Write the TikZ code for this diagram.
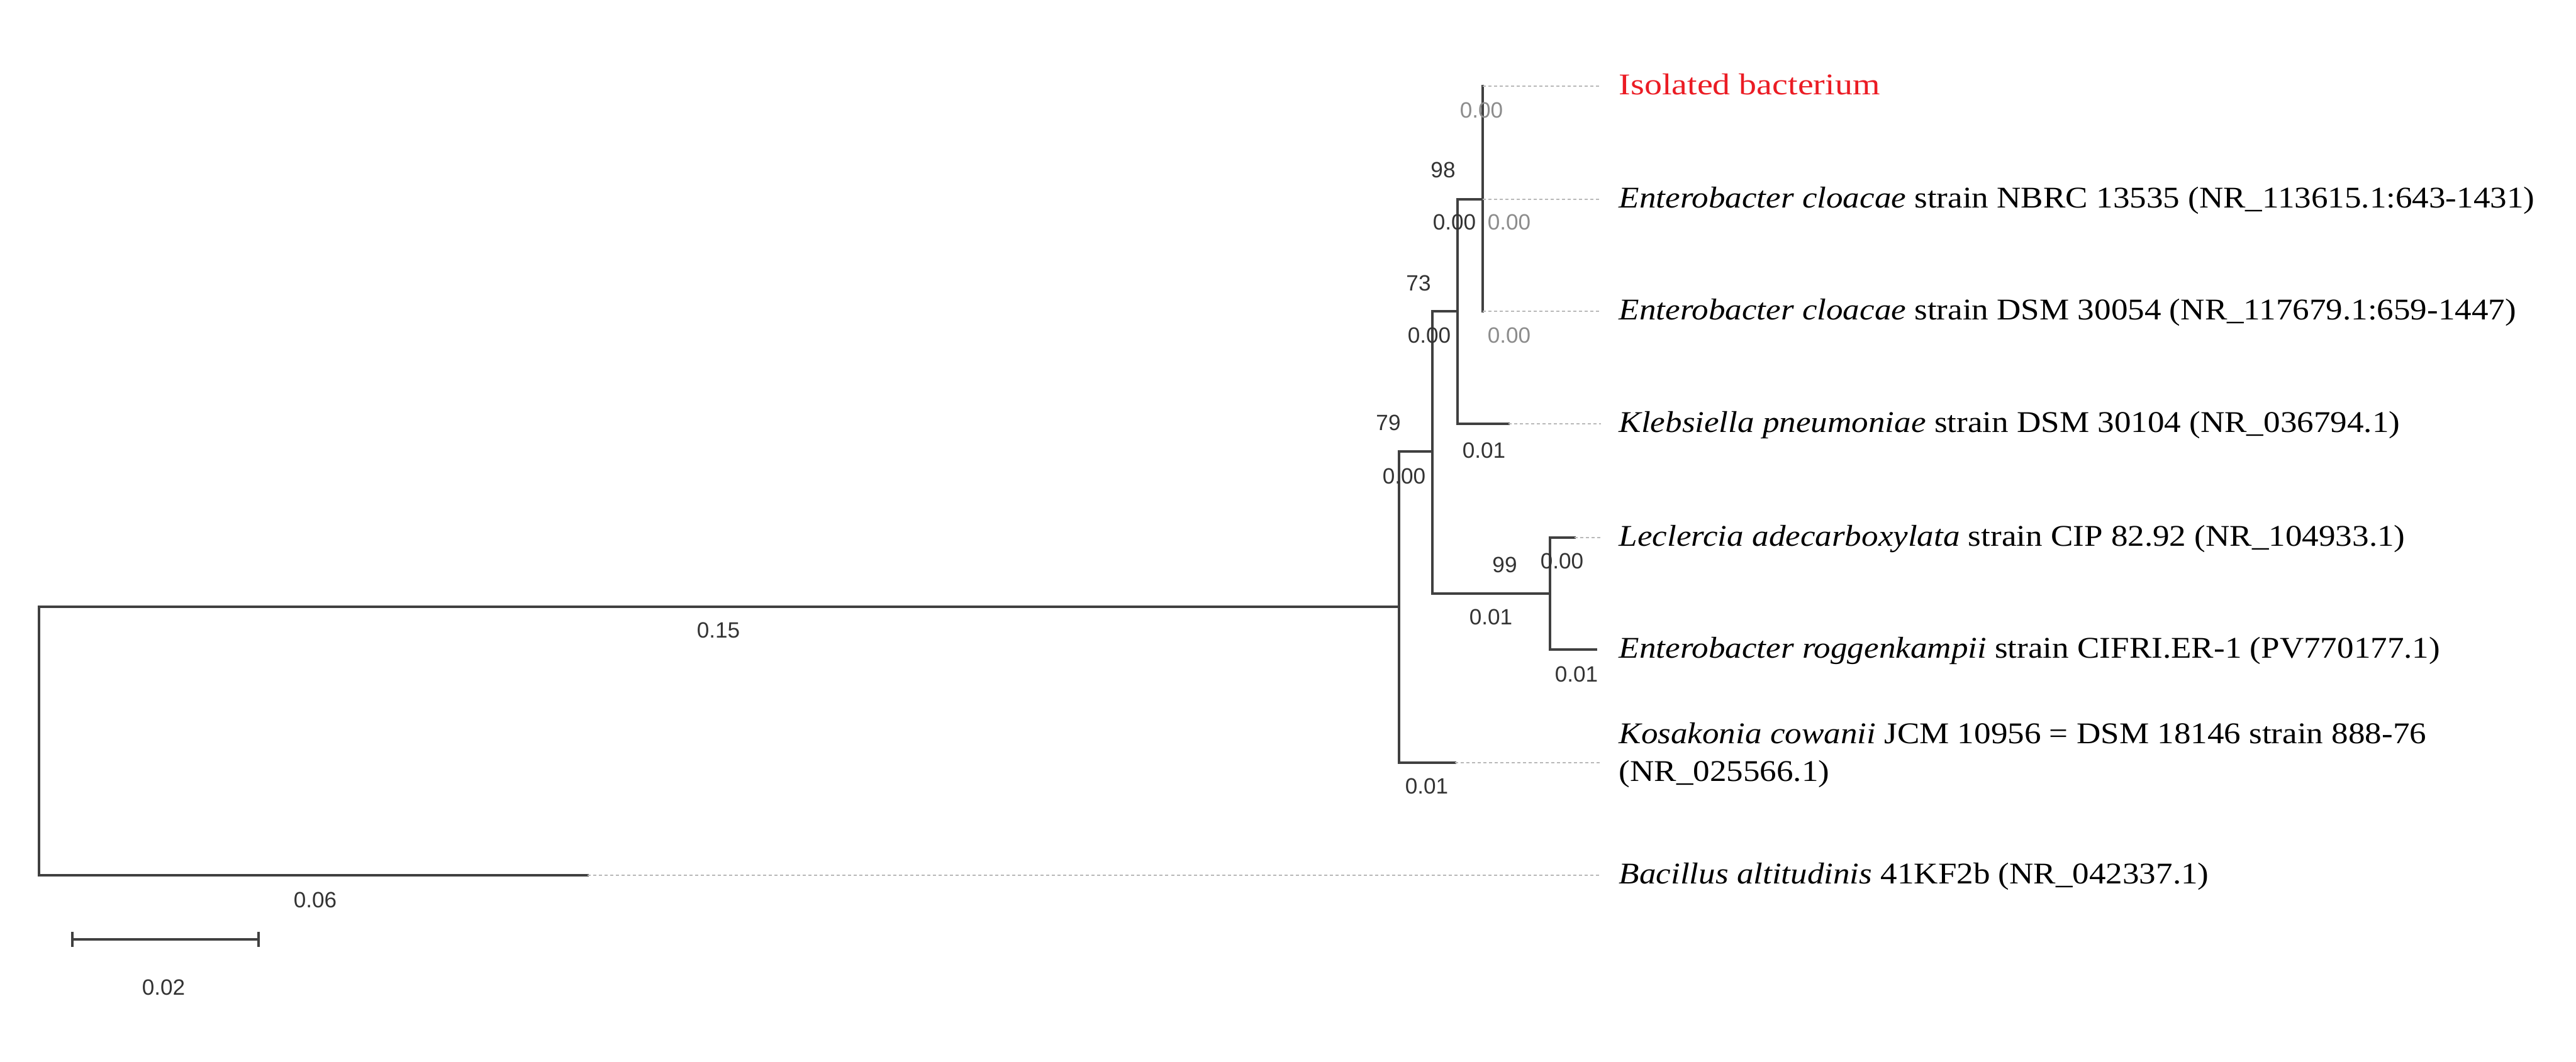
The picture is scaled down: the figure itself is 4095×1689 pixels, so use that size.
\documentclass[tikz,border=0pt]{standalone}
\usepackage{fontspec}
\setmainfont{Liberation Serif}
\newfontfamily\numfont{Liberation Sans}
\definecolor{isored}{RGB}{235,28,36}
\definecolor{branchcol}{RGB}{64,64,64}
\newcommand{\wtx}[1]{\scalebox{1.11}[1]{#1}}
\begin{document}
\begin{tikzpicture}[x=0.01cm,y=-0.01cm,
  branch/.style={draw=branchcol, line width=0.9pt, line cap=rect},
  leader/.style={draw=black!28, line width=0.7pt, dash pattern=on 0.05cm off 0.04cm, shorten >=0.28cm},
  taxon/.style={anchor=base west, inner sep=0pt, font=\fontsize{13.6}{16}\selectfont},
  blabel/.style={inner sep=0pt, font=\numfont\fontsize{10}{12}\selectfont, text=black!80},
  glabel/.style={blabel, text=black!45}]
\path[use as bounding box, fill=white] (0,0) rectangle (4095,1689);

% internal points
\coordinate (iso) at (2357,137);
\coordinate (nA) at (2357,317);
\coordinate (dsm) at (2357,495);
\coordinate (nB) at (2317,317);
\coordinate (nBin) at (2317,495);
\coordinate (nBbot) at (2317,674);
\coordinate (kleb) at (2398,674);
\coordinate (nC) at (2277,495);
\coordinate (nCin) at (2277,718);
\coordinate (nCbot) at (2277,944);
\coordinate (nD) at (2464,944);
\coordinate (nDtop) at (2464,855);
\coordinate (nDbot) at (2464,1033);
\coordinate (lecl) at (2503,855);
\coordinate (rogg) at (2537,1033);
\coordinate (nE) at (2224,718);
\coordinate (nEin) at (2224,965);
\coordinate (nEbot) at (2224,1213);
\coordinate (kos) at (2313,1213);
\coordinate (root) at (62,965);
\coordinate (rootbot) at (62,1392);
\coordinate (bac) at (934,1392);

% branches
\draw[branch] (iso) -- (dsm);
\draw[branch] (nB) -- (nA);
\draw[branch] (nB) -- (nBbot) -- (kleb);
\draw[branch] (nC) -- (nBin);
\draw[branch] (nC) -- (nCbot) -- (nD);
\draw[branch] (lecl) -- (nDtop) -- (nDbot) -- (rogg);
\draw[branch] (nE) -- (nCin);
\draw[branch] (nE) -- (nEbot) -- (kos);
\draw[branch] (root) -- (nEin);
\draw[branch] (root) -- (rootbot) -- (bac);

% taxa
\node[taxon, text=isored] (t1) at (2573,151) {\scalebox{1.17}[1]{Isolated bacterium}};
\node[taxon] (t2) at (2573,331) {\wtx{\textit{Enterobacter cloacae} strain NBRC 13535 (NR\_113615.1:643-1431)}};
\node[taxon] (t3) at (2573,509) {\wtx{\textit{Enterobacter cloacae} strain DSM 30054 (NR\_117679.1:659-1447)}};
\node[taxon] (t4) at (2573,688) {\wtx{\textit{Klebsiella pneumoniae} strain DSM 30104 (NR\_036794.1)}};
\node[taxon] (t5) at (2573,869) {\wtx{\textit{Leclercia adecarboxylata} strain CIP 82.92 (NR\_104933.1)}};
\node[taxon] (t6) at (2573,1047) {\wtx{\textit{Enterobacter roggenkampii} strain CIFRI.ER-1 (PV770177.1)}};
\node[taxon] (t7) at (2573,1183) {\wtx{\textit{Kosakonia cowanii} JCM 10956 = DSM 18146 strain 888-76}};
\node[taxon] (t7b) at (2573,1243) {\wtx{(NR\_025566.1)}};
\node[taxon] (t8) at (2573,1406) {\wtx{\textit{Bacillus altitudinis} 41KF2b (NR\_042337.1)}};

% dotted leaders
\draw[leader] (iso) -- (iso -| t1.west);
\draw[leader] (nA) -- (nA -| t2.west);
\draw[leader] (dsm) -- (dsm -| t3.west);
\draw[leader] (kleb) -- (kleb -| t4.west);
\draw[leader] (lecl) -- (lecl -| t5.west);
\draw[leader] (kos) -- (kos -| t7.west);
\draw[leader] (bac) -- (bac -| t8.west);

% branch labels
\node[glabel] (l1) at (2355,175) {0.00};
\node[blabel] (l2) at (2294,270) {98};
\node[blabel] (l3) at (2312,353) {0.00};
\node[glabel] (l4) at (2399,353) {0.00};
\node[blabel] (l5) at (2255,450) {73};
\node[blabel] (l6) at (2272,533) {0.00};
\node[glabel] (l7) at (2399,533) {0.00};
\node[blabel] (l8) at (2207,672) {79};
\node[blabel] (l9) at (2232,757) {0.00};
\node[blabel] (l10) at (2359,716) {0.01};
\node[blabel] (l11) at (2392,898) {99};
\node[blabel] (l12) at (2483,892) {0.00};
\node[blabel] (l13) at (2370,981) {0.01};
\node[blabel] (l14) at (2506,1072) {0.01};
\node[blabel] (l15) at (2268,1250) {0.01};
\node[blabel] (l16) at (1142,1002) {0.15};
\node[blabel] (l17) at (501,1431) {0.06};

% scale bar
\coordinate (sb1) at (115,1494);
\coordinate (sb2) at (411,1494);
\draw[branch, line cap=butt] (sb1) -- (sb2);
\draw[branch, line cap=butt] ([yshift=0.12cm]sb1) -- ([yshift=-0.12cm]sb1);
\draw[branch, line cap=butt] ([yshift=0.12cm]sb2) -- ([yshift=-0.12cm]sb2);
\node[blabel] (l18) at (260,1570) {0.02};
\end{tikzpicture}
\end{document}
